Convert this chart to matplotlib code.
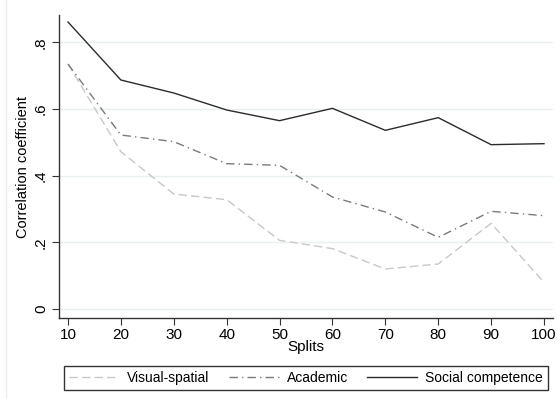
import matplotlib
matplotlib.use("Agg")
import matplotlib.pyplot as plt
from matplotlib.lines import Line2D

plt.rcParams['font.family'] = ['Liberation Sans', 'DejaVu Sans']

splits = [10, 20, 30, 40, 50, 60, 70, 80, 90, 100]
visual_spatial = [0.735, 0.472, 0.345, 0.328, 0.206, 0.181, 0.120, 0.135, 0.257, 0.080]
academic = [0.735, 0.522, 0.502, 0.436, 0.431, 0.336, 0.291, 0.215, 0.293, 0.280]
social_competence = [0.861, 0.687, 0.648, 0.597, 0.565, 0.602, 0.536, 0.574, 0.493, 0.496]

y_ticks = [0, 0.2, 0.4, 0.6, 0.8]
y_tick_labels = ["0", ".2", ".4", ".6", ".8"]

W, H = 557, 399
fig = plt.figure(figsize=(W / 100, H / 100), dpi=100)
fig.patch.set_facecolor("white")

ax = fig.add_axes([59 / W, 1 - 318 / H, (553 - 59) / W, (318 - 15) / H])
ax.set_xlim(8.3, 101.7)
ax.set_ylim(-0.027, 0.882)

grid_color = "#e8f0f2"
for t in y_ticks:
    ax.axhline(t, color=grid_color, lw=1.0, zorder=0)

l1, = ax.plot(splits, visual_spatial, color="#c8c8c8", lw=1.0,
              dashes=(6, 3), label="Visual-spatial")
l2, = ax.plot(splits, academic, color="#7a7a7a", lw=1.0,
              dashes=(6, 3, 1, 3), label="Academic")
l3, = ax.plot(splits, social_competence, color="#2b2b2b", lw=1.0,
              label="Social competence")

for side in ("top", "right"):
    ax.spines[side].set_visible(False)
for side in ("left", "bottom"):
    ax.spines[side].set_color("#333333")
    ax.spines[side].set_linewidth(1.0)

ax.set_xticks(splits)
ax.set_xticklabels([str(s) for s in splits])
ax.set_yticks(y_ticks)
ax.set_yticklabels(y_tick_labels, rotation=90, va="center")
ax.tick_params(axis="both", direction="out", length=5, width=0.8,
               color="#333333", labelsize=11, labelcolor="black", pad=2)
ax.tick_params(axis="y", pad=3)

ax.set_xlabel("Splits", fontsize=11, labelpad=-1)
ax.set_ylabel("Correlation coefficient", fontsize=10.5, labelpad=3)

leg = fig.legend(handles=[l1, l2, l3], loc="lower left",
                 bbox_to_anchor=(64 / W, 1 - 390 / H, (548 - 64) / W, 26 / H),
                 mode="expand", ncol=3, fontsize=10, frameon=True,
                 fancybox=False, edgecolor="black", handlelength=3.6,
                 handletextpad=0.6, borderaxespad=0, borderpad=0.35)
leg.get_frame().set_linewidth(1.0)

fig.add_artist(Line2D([5.5 / W, 5.5 / W], [0, 1], color="#eeeeee", lw=1.0,
                      transform=fig.transFigure))

fig.savefig("out.png", dpi=100, facecolor="white")
